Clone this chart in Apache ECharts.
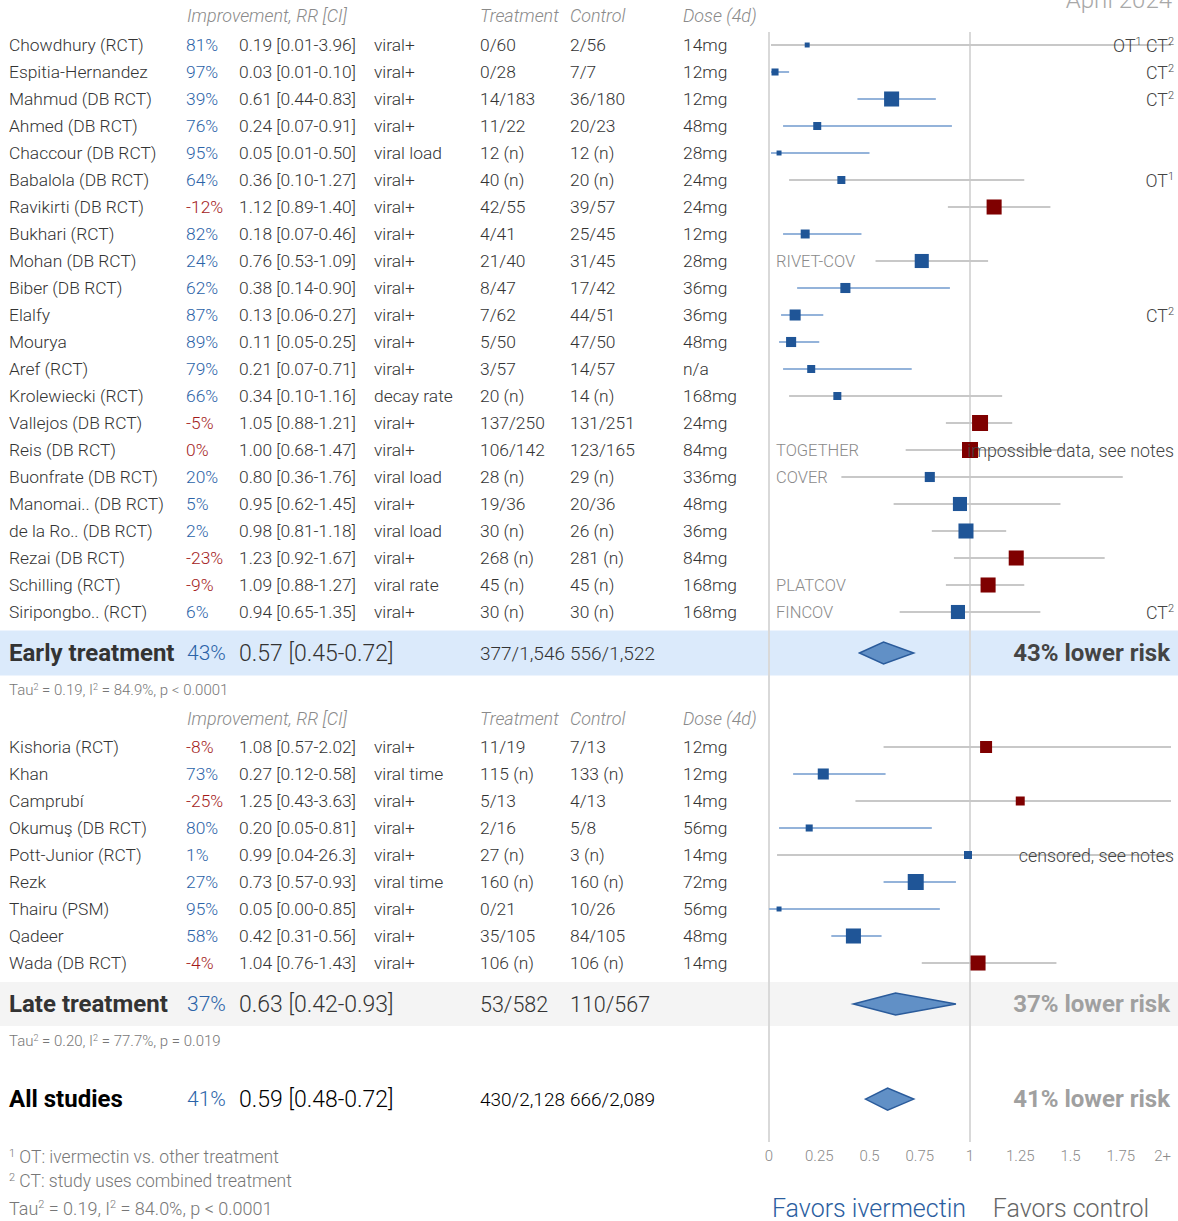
<!DOCTYPE html>
<html><head><meta charset="utf-8">
<script src="https://cdn.jsdelivr.net/npm/echarts@6/dist/echarts.min.js"></script>
<style>html,body{margin:0;padding:0;background:#fff}#main{width:1178px;height:1221px}</style>
</head><body><div id="main"></div>
<script>
// ---------- DATA ----------
const earlyNames = ['Chowdhury (RCT)','Espitia-Hernandez','Mahmud (DB RCT)','Ahmed (DB RCT)','Chaccour (DB RCT)','Babalola (DB RCT)','Ravikirti (DB RCT)','Bukhari (RCT)','Mohan (DB RCT)','Biber (DB RCT)','Elalfy','Mourya','Aref (RCT)','Krolewiecki (RCT)','Vallejos (DB RCT)','Reis (DB RCT)','Buonfrate (DB RCT)','Manomai.. (DB RCT)','de la Ro.. (DB RCT)','Rezai (DB RCT)','Schilling (RCT)','Siripongbo.. (RCT)'];
const earlyPct = [81,97,39,76,95,64,-12,82,24,62,87,89,79,66,-5,0,20,5,2,-23,-9,6];
const earlyRR = [0.19,0.03,0.61,0.24,0.05,0.36,1.12,0.18,0.76,0.38,0.13,0.11,0.21,0.34,1.05,1.00,0.80,0.95,0.98,1.23,1.09,0.94];
const earlyLo = [0.01,0.01,0.44,0.07,0.01,0.10,0.89,0.07,0.53,0.14,0.06,0.05,0.07,0.10,0.88,0.68,0.36,0.62,0.81,0.92,0.88,0.65];
const earlyHi = [3.96,0.10,0.83,0.91,0.50,1.27,1.40,0.46,1.09,0.90,0.27,0.25,0.71,1.16,1.21,1.47,1.76,1.45,1.18,1.67,1.27,1.35];
const earlyOutcome = ['viral+','viral+','viral+','viral+','viral load','viral+','viral+','viral+','viral+','viral+','viral+','viral+','viral+','decay rate','viral+','viral+','viral load','viral+','viral load','viral+','viral rate','viral+'];
const earlyTreat = ['0/60','0/28','14/183','11/22','12 (n)','40 (n)','42/55','4/41','21/40','8/47','7/62','5/50','3/57','20 (n)','137/250','106/142','28 (n)','19/36','30 (n)','268 (n)','45 (n)','30 (n)'];
const earlyCtrl = ['2/56','7/7','36/180','20/23','12 (n)','20 (n)','39/57','25/45','31/45','17/42','44/51','47/50','14/57','14 (n)','131/251','123/165','29 (n)','20/36','26 (n)','281 (n)','45 (n)','30 (n)'];
const earlyDose = ['14mg','12mg','12mg','48mg','28mg','24mg','24mg','12mg','28mg','36mg','36mg','48mg','n/a','168mg','24mg','84mg','336mg','48mg','36mg','84mg','168mg','168mg'];
const earlyWeight = [0.31,0.44,0.94,0.5,0.31,0.5,0.94,0.56,0.88,0.63,0.69,0.63,0.5,0.5,1,1,0.63,0.88,0.94,0.94,0.94,0.88];
const earlyTrial = ['','','','','','','','','RIVET-COV','','','','','','','TOGETHER','COVER','','','','PLATCOV','FINCOV'];
const earlyFlag = ['OT¹ CT²','CT²','CT²','','','OT¹','','','','','CT²','','','','','impossible data, see notes','','','','','','CT²'];

const lateNames = ['Kishoria (RCT)','Khan','Camprubí','Okumuş (DB RCT)','Pott-Junior (RCT)','Rezk','Thairu (PSM)','Qadeer','Wada (DB RCT)'];
const latePct = [-8,73,-25,80,1,27,95,58,-4];
const lateRR = [1.08,0.27,1.25,0.20,0.99,0.73,0.05,0.42,1.04];
const lateLo = [0.57,0.12,0.43,0.05,0.04,0.57,0.00,0.31,0.76];
const lateHi = [2.02,0.58,3.63,0.81,26.3,0.93,0.85,0.56,1.43];
const lateOutcome = ['viral+','viral time','viral+','viral+','viral+','viral time','viral+','viral+','viral+'];
const lateTreat = ['11/19','115 (n)','5/13','2/16','27 (n)','160 (n)','0/21','35/105','106 (n)'];
const lateCtrl = ['7/13','133 (n)','4/13','5/8','3 (n)','160 (n)','10/26','84/105','106 (n)'];
const lateDose = ['12mg','12mg','14mg','56mg','14mg','72mg','56mg','48mg','14mg'];
const lateWeight = [0.75,0.69,0.56,0.44,0.5,1,0.31,0.94,0.94];
const lateTrial = ['','','','','','','','',''];
const lateFlag = ['','','','','censored, see notes','','','',''];

const summaryLabels = ['Early treatment','Late treatment','All studies'];
const summaryPct = [43,37,41];
const summaryRR = [0.57,0.63,0.59];
const summaryLo = [0.45,0.42,0.48];
const summaryHi = [0.72,0.93,0.72];
const summaryTreat = ['377/1,546','53/582','430/2,128'];
const summaryCtrl = ['556/1,522','110/567','666/2,089'];
const summaryTau = ['Tau² = 0.19, I² = 84.9%, p < 0.0001','Tau² = 0.20, I² = 77.7%, p = 0.019'];
const overallTau = 'Tau² = 0.19, I² = 84.0%, p < 0.0001';
const headerLabels = ['Improvement, RR [CI]','Treatment','Control','Dose (4d)'];
const tickLabels = ['0','0.25','0.5','0.75','1','1.25','1.5','1.75','2+'];
const footnotes = ['¹ OT: ivermectin vs. other treatment','² CT: study uses combined treatment'];
const dateLabel = 'April 2024';
const favorsLabels = ['Favors ivermectin','Favors control'];

// ---------- LAYOUT (row units; row r sits at 45 + 27r px) ----------
const FONT = 'Roboto, "Noto Sans", sans-serif';
const earlyRows = earlyNames.map((_, i) => i);
const lateRows = lateNames.map((_, i) => 26 + i);
const summaryRows = [22.52, 35.52, 39.04];
const tauRows = [23.88, 36.88];
const headerRows = [-1.11, 24.96];
const COL = {name: 9, pct: 186, rr: 239, outcome: 374, treat: 480, ctrl: 570, dose: 683};
const BLUE = '#1f5597', RED = '#7f0000';
const FS = 17.4;

function fmt(v) { return v >= 10 ? v.toFixed(1) : v.toFixed(2); }
function ciText(r, l, h) { return fmt(r) + ' [' + fmt(l) + '-' + fmt(h) + ']'; }
// superscript digits -> rich tokens
function supify(s) { return s.replace(/¹/g, '{s|1}').replace(/²/g, '{s|2}'); }
function richFor(fs, fill) {
  return {s: {fontSize: Math.round(fs * 0.62), fontFamily: FONT, fontWeight: 300, fill: fill, verticalAlign: 'top', lineHeight: Math.round(fs * 0.62)}};
}
function T(x, y, text, o) {
  const st = Object.assign({x: x, y: y, fill: '#333', fontSize: FS,
    fontFamily: FONT, fontWeight: 300, align: 'left', verticalAlign: 'middle'}, o || {});
  if (/[¹²]/.test(text)) {
    st.text = supify(text);
    st.rich = richFor(st.fontSize, st.fill);
  } else st.text = text;
  return {type: 'text', z2: 10, style: st};
}

// study rows table
const studies = [];
earlyNames.forEach((n, i) => studies.push({row: earlyRows[i], name: n, pct: earlyPct[i], rr: earlyRR[i], lo: earlyLo[i], hi: earlyHi[i],
  outcome: earlyOutcome[i], treat: earlyTreat[i], ctrl: earlyCtrl[i], dose: earlyDose[i], w: earlyWeight[i], trial: earlyTrial[i], flag: earlyFlag[i]}));
lateNames.forEach((n, i) => studies.push({row: lateRows[i], name: n, pct: latePct[i], rr: lateRR[i], lo: lateLo[i], hi: lateHi[i],
  outcome: lateOutcome[i], treat: lateTreat[i], ctrl: lateCtrl[i], dose: lateDose[i], w: lateWeight[i], trial: lateTrial[i], flag: lateFlag[i]}));

const chart = echarts.init(document.getElementById('main'), null, {renderer: 'svg'});

function gText(left, top, text, fs, fill) {
  const st = {fontSize: fs, fontFamily: FONT, fontWeight: 300, fill: fill};
  if (/[¹²]/.test(text)) { st.text = supify(text); st.rich = richFor(fs, fill); } else st.text = text;
  return {type: 'text', left: left, top: top, style: st};
}

const option = {
  animation: false,
  grid: {left: 769, width: 402, top: 0, height: 1221},
  xAxis: {type: 'value', min: 0, max: 2, interval: 0.25, offset: -77,
    axisLine: {show: false}, axisTick: {show: false}, splitLine: {show: false},
    axisLabel: {margin: 4, fontSize: 15, color: '#8a8a8a', fontFamily: FONT, fontWeight: 300,
      alignMaxLabel: 'right', formatter: (v) => tickLabels[Math.round(v / 0.25)]}},
  yAxis: {type: 'value', inverse: true, min: -45 / 27, max: 1176 / 27, show: false},
  series: [
    // summary bands
    {type: 'custom', z: 1, silent: true, data: [[0, summaryRows[0], 0], [0, summaryRows[1], 1]],
      renderItem: (p, api) => {
        const c = api.coord([0, api.value(1)]);
        const idx = api.value(2);
        const h = idx === 0 ? 45 : 44;
        return {type: 'rect', shape: {x: 0, y: c[1] - h / 2, width: api.getWidth(), height: h},
          style: {fill: idx === 0 ? '#dbeafb' : '#f4f4f4'}};
      }},
    // reference lines at 0 and 1
    {type: 'custom', z: 2, silent: true, data: [[0], [1]],
      renderItem: (p, api) => {
        const a = api.coord([api.value(0), -0.48]), b = api.coord([api.value(0), 40.63]);
        return {type: 'line', shape: {x1: a[0], y1: a[1], x2: b[0], y2: b[1]}, style: {stroke: '#d9d9d9', lineWidth: 2}};
      }},
    // study CIs and squares
    {type: 'custom', z: 3, silent: true,
      data: studies.map(s => [s.rr, s.lo, s.hi, s.row, s.w]),
      renderItem: (p, api) => {
        const rr = api.value(0), lo = api.value(1), hi = api.value(2), row = api.value(3), w = api.value(4);
        const c = api.coord([rr, row]), a = api.coord([lo, row]), b = api.coord([Math.min(hi, 2), row]);
        const sz = 16 * w;
        return {type: 'group', children: [
          {type: 'line', shape: {x1: a[0], y1: c[1], x2: b[0], y2: c[1]}, style: {stroke: hi < 1 ? '#94b3da' : '#c8c8c8', lineWidth: 2}},
          {type: 'rect', shape: {x: c[0] - sz / 2, y: c[1] - sz / 2, width: sz, height: sz}, style: {fill: rr >= 1 ? RED : BLUE}}
        ]};
      }},
    // summary diamonds
    {type: 'custom', z: 3, silent: true,
      data: summaryRR.map((v, i) => [v, summaryLo[i], summaryHi[i], summaryRows[i]]),
      renderItem: (p, api) => {
        const row = api.value(3);
        const c = api.coord([api.value(0), row]), a = api.coord([api.value(1), row]), b = api.coord([api.value(2), row]);
        return {type: 'polygon', shape: {points: [[a[0], c[1]], [c[0], c[1] - 11], [b[0], c[1]], [c[0], c[1] + 11]]},
          style: {fill: '#6190c6', stroke: '#2a5b9b', lineWidth: 1.5}};
      }},
    // study table text
    {type: 'custom', z: 4, silent: true,
      data: studies.map((s, i) => [0, s.row, i]),
      renderItem: (p, api) => {
        const s = studies[api.value(2)];
        const y = api.coord([0, s.row])[1];
        const pctColor = s.pct > 0 ? '#2b63a8' : '#a31a1a';
        const kids = [
          T(COL.name, y, s.name),
          T(COL.pct, y, s.pct + '%', {fill: pctColor}),
          T(COL.rr, y, ciText(s.rr, s.lo, s.hi)),
          T(COL.outcome, y, s.outcome),
          T(COL.treat, y, s.treat),
          T(COL.ctrl, y, s.ctrl),
          T(COL.dose, y, s.dose)
        ];
        if (s.trial) kids.push(T(776, y, s.trial, {fill: '#8a8a8a', fontSize: 16.5}));
        if (s.flag) kids.push(T(1174, y, s.flag, {align: 'right', fill: '#444', fontSize: 17.8}));
        return {type: 'group', children: kids};
      }},
    // summary table text
    {type: 'custom', z: 4, silent: true,
      data: summaryRows.map((r, i) => [0, r, i]),
      renderItem: (p, api) => {
        const i = api.value(2);
        const y = api.coord([0, summaryRows[i]])[1];
        const cnt = i === 1 ? 21.5 : 19;
        const ink = i === 2 ? '#000' : '#333';
        const kids = [
          T(COL.name, y, summaryLabels[i], {fontSize: 24, fontWeight: 'bold', fill: ink}),
          T(COL.pct + 1, y, summaryPct[i] + '%', {fontSize: 21, fill: '#2b63a8'}),
          T(COL.rr, y, ciText(summaryRR[i], summaryLo[i], summaryHi[i]), {fontSize: 23, fill: ink}),
          T(COL.treat, y, summaryTreat[i], {fontSize: cnt, fill: ink}),
          T(COL.ctrl, y, summaryCtrl[i], {fontSize: cnt, fill: ink}),
          T(1170, y, (100 - Math.round(summaryRR[i] * 100)) + '% lower risk',
            {align: 'right', fontSize: 24, fontWeight: 'bold', fill: i === 0 ? '#444' : '#a0a0a0'})
        ];
        if (i < 2) {
          const ty = api.coord([0, tauRows[i]])[1];
          kids.push(T(COL.name, ty, summaryTau[i], {fontSize: 15, fill: '#777'}));
        }
        return {type: 'group', children: kids};
      }},
    // headers
    {type: 'custom', z: 4, silent: true,
      data: headerRows.map((r, i) => [0, r, i]),
      renderItem: (p, api) => {
        const y = api.coord([0, api.value(1)])[1];
        const o = {fill: '#8a8a8a', fontStyle: 'italic', fontSize: 17.9};
        return {type: 'group', children: [
          T(COL.pct + 1, y, headerLabels[0], o),
          T(COL.treat, y, headerLabels[1], o),
          T(COL.ctrl, y, headerLabels[2], o),
          T(COL.dose, y, headerLabels[3], o)
        ]};
      }}
  ],
  graphic: [
    {type: 'text', right: 6, top: -12, style: {text: dateLabel, fontSize: 24, fontFamily: FONT, fontWeight: 300, fill: '#a8a8a8'}},
    gText(9, 1148, footnotes[0], 17.5, '#777'),
    gText(9, 1172, footnotes[1], 17.5, '#777'),
    gText(9, 1199, overallTau, 18, '#777'),
    {type: 'text', x: 869, y: 1208, style: {text: favorsLabels[0], fontSize: 25, fontFamily: FONT, fontWeight: 300, fill: '#2b5e9f', align: 'center', verticalAlign: 'middle'}},
    {type: 'text', x: 1071, y: 1208, style: {text: favorsLabels[1], fontSize: 25, fontFamily: FONT, fontWeight: 300, fill: '#666', align: 'center', verticalAlign: 'middle'}}
  ]
};
chart.setOption(option);
</script>
</body></html>
